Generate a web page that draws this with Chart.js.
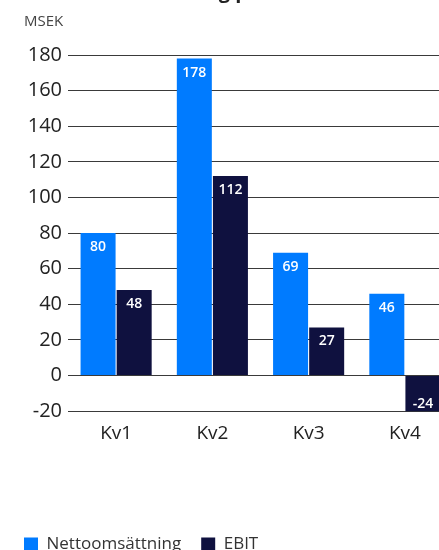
<!DOCTYPE html>
<html><head><meta charset="utf-8">
<script src="https://cdn.jsdelivr.net/npm/chart.js@4/dist/chart.umd.min.js"></script>
<style>
html,body{margin:0;padding:0;background:#fff;overflow:hidden;width:439px;height:550px;}
#wrap{position:absolute;left:0;top:-24px;width:455px;height:587px;}
</style></head>
<body>
<div id="wrap"><canvas id="c" width="455" height="587"></canvas></div>
<script>
const chartTitle = 'Omsättning per kvartal';
const unitLabel = 'MSEK';
const categories = ['Kv1', 'Kv2', 'Kv3', 'Kv4'];
const seriesNames = ['Nettoomsättning', 'EBIT'];
const nettoomsattning = [80, 178, 69, 46];
const ebit = [48, 112, 27, -24];
const yTicks = [-20, 0, 20, 40, 60, 80, 100, 120, 140, 160, 180];

const FONT = "'Open Sans', 'Noto Sans', sans-serif";

const barLabels = {
  id: 'barLabels',
  afterDatasetsDraw(chart) {
    const ctx = chart.ctx;
    ctx.save();
    ctx.font = '600 14px ' + FONT;
    ctx.fillStyle = '#ffffff';
    ctx.textAlign = 'center';
    ctx.textBaseline = 'middle';
    chart.data.datasets.forEach((ds, i) => {
      chart.getDatasetMeta(i).data.forEach((bar, j) => {
        const v = ds.data[j];
        const y = v >= 0 ? bar.y + 14 : bar.y - 14;
        ctx.fillText(String(v), bar.x, y);
      });
    });
    ctx.restore();
  }
};

const unitText = {
  id: 'unitText',
  afterDraw(chart) {
    const ctx = chart.ctx;
    ctx.save();
    ctx.font = '15px ' + FONT;
    ctx.fillStyle = '#444444';
    ctx.textAlign = 'left';
    ctx.textBaseline = 'middle';
    ctx.fillText(unitLabel, 24, 46);
    ctx.restore();
  }
};

new Chart(document.getElementById('c'), {
  type: 'bar',
  data: {
    labels: categories,
    datasets: [
      { label: seriesNames[0], data: nettoomsattning, backgroundColor: '#007BFF' },
      { label: seriesNames[1], data: ebit, backgroundColor: '#0F113F' }
    ]
  },
  options: {
    responsive: false,
    animation: false,
    devicePixelRatio: 1,
    categoryPercentage: 0.75,
    barPercentage: 0.97,
    layout: { padding: { left: 4, right: 2, top: 0, bottom: 0 } },
    plugins: {
      title: {
        display: true, text: chartTitle, color: '#222',
        font: { family: FONT, size: 20, weight: 'bold' },
        padding: { top: 4, bottom: 51 }
      },
      legend: {
        display: true, position: 'bottom', align: 'start',
        labels: {
          boxWidth: 14, boxHeight: 14, padding: 20, color: '#333',
          font: { family: FONT, size: 17 }
        }
      },
      tooltip: { enabled: false }
    },
    scales: {
      x: {
        grid: { display: false, drawTicks: false },
        border: { display: false },
        ticks: { color: '#222', font: { family: FONT, size: 19 }, padding: 11 },
        afterFit(scale) { scale.height += 60; }
      },
      y: {
        min: yTicks[0], max: yTicks[yTicks.length - 1],
        afterBuildTicks(scale) { scale.ticks = yTicks.map(v => ({ value: v })); },
        grid: { color: '#3a3a3a', lineWidth: 1, drawTicks: false },
        border: { display: false },
        ticks: { color: '#222', font: { family: FONT, size: 20 }, padding: 6 },
        afterFit(scale) { scale.width = 64; }
      }
    }
  },
  plugins: [barLabels, unitText]
});
</script>
</body></html>
